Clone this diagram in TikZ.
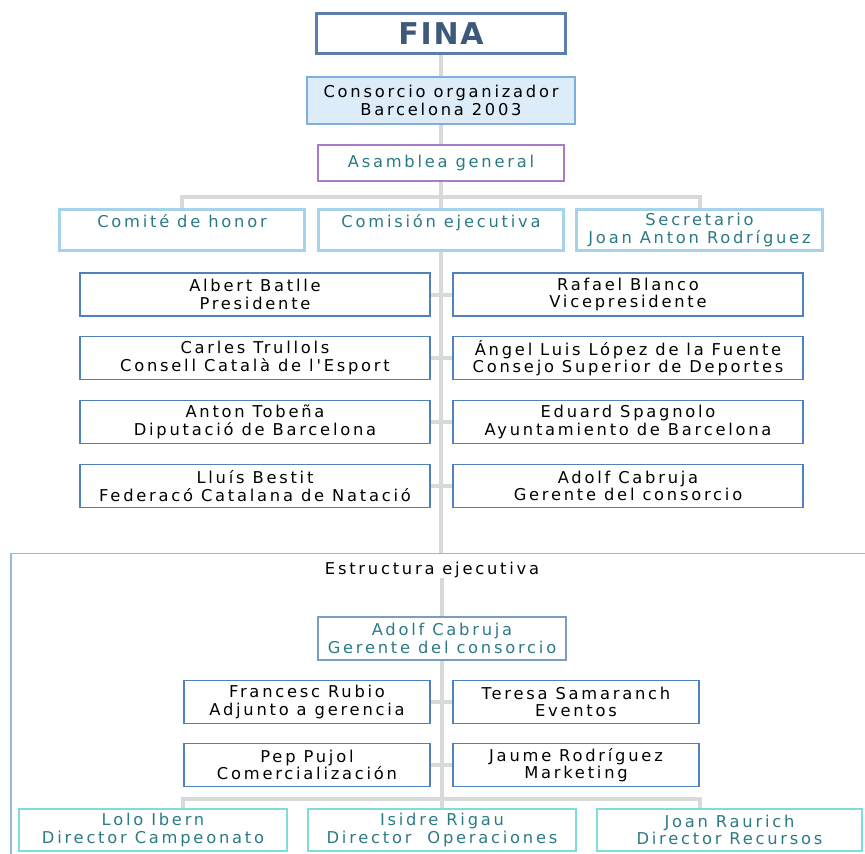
\documentclass[tikz,border=0pt]{standalone}
\usepackage{fontspec}
\newfontfamily\pix{DejaVu Sans}[LetterSpace=17]
\newfontfamily\pixb{DejaVu Sans Bold}[LetterSpace=6]
\usetikzlibrary{backgrounds}
\definecolor{lnk}{HTML}{D9D9D9}
\definecolor{finab}{HTML}{5B7FA8}
\definecolor{finat}{HTML}{3D5A7A}
\definecolor{consf}{HTML}{DCECF8}
\definecolor{consb}{HTML}{7FB0DC}
\definecolor{purp}{HTML}{A87CC8}
\definecolor{teal}{HTML}{2B7B85}
\definecolor{lblue}{HTML}{A6D2EA}
\definecolor{memb}{HTML}{4F81BD}
\definecolor{estb}{HTML}{94B8DE}
\definecolor{adb}{HTML}{7C9CC2}
\definecolor{cyanb}{HTML}{7FDCDC}
\tikzset{
  x=1pt, y=-1pt,
  base/.style={inner sep=0pt, align=center, fill=white,
    font=\pix\fontsize{16.3}{17.5}\selectfont},
  finabox/.style={base, draw=finab, line width=3pt, text=finat,
    font=\pixb\fontsize{30}{32}\selectfont},
  consbox/.style={base, draw=consb, fill=consf, line width=2pt},
  asambox/.style={base, draw=purp, line width=1.5pt, text=teal},
  combox/.style={base, draw=lblue, line width=3pt, text=teal},
  membox/.style={base, draw=memb, line width=1.5pt},
  adbox/.style={base, draw=adb, line width=1.5pt, text=teal},
  dirbox/.style={base, draw=cyanb, line width=2pt, text=teal},
  estrbox/.style={draw=estb, line width=1.5pt, inner sep=0pt},
  link/.style={draw=lnk, line width=4pt},
}
\begin{document}
\begin{tikzpicture}
\useasboundingbox (0,0) rectangle (865,854);
\clip (0,0) rectangle (865,854);
% top part
\node[finabox, minimum width=249pt, minimum height=40pt] (fina) at (441,33.5) {FINA};
\node[consbox, minimum width=268pt, minimum height=47pt] (cons) at (441,100.5) {Consorcio organizador\\Barcelona 2003};
\node[asambox, minimum width=246pt, minimum height=36pt] (asam) at (441,163) {Asamblea general};
\node[combox, minimum width=245pt, minimum height=41pt] (comite) at (182,230) {Comité de honor\\[0pt]~};
\node[combox, minimum width=245pt, minimum height=41pt] (comision) at (441,230) {Comisión ejecutiva\\[0pt]~};
\node[combox, minimum width=246pt, minimum height=41pt] (secret) at (699.5,230) {Secretario\\Joan Anton Rodríguez};
% members
\node[membox, minimum width=350pt, minimum height=43pt] (albert) at (255,294.5) {Albert Batlle\\Presidente};
\node[membox, minimum width=350pt, minimum height=43pt] (rafael) at (628,294.5) {Rafael Blanco\\Vicepresidente};
\node[membox, minimum width=350pt, minimum height=43pt] (carles) at (255,358) {Carles Trullols\\Consell Català de l'Esport};
\node[membox, minimum width=350pt, minimum height=43pt] (angel) at (628,358) {Ángel Luis López de la Fuente\\Consejo Superior de Deportes};
\node[membox, minimum width=350pt, minimum height=43pt] (anton) at (255,422) {Anton Tobeña\\Diputació de Barcelona};
\node[membox, minimum width=350pt, minimum height=43pt] (eduard) at (628,422) {Eduard Spagnolo\\Ayuntamiento de Barcelona};
\node[membox, minimum width=350pt, minimum height=43pt] (lluis) at (255,486) {Lluís Bestit\\Federacó Catalana de Natació};
\node[membox, minimum width=350pt, minimum height=43pt] (adolf) at (628,486) {Adolf Cabruja\\Gerente del consorcio};
% estructura ejecutiva
\node[estrbox, anchor=north west, minimum width=870pt, minimum height=320pt] (estr) at (10,552.5) {};
\node[base, fill=none] (estrt) at (432,570) {Estructura ejecutiva};
\node[adbox, minimum width=248pt, minimum height=43pt] (adolf2) at (442,638.5) {Adolf Cabruja\\Gerente del consorcio};
\node[membox, minimum width=246pt, minimum height=43pt] (francesc) at (307,702) {Francesc Rubio\\Adjunto a gerencia};
\node[membox, minimum width=246pt, minimum height=43pt] (teresa) at (576,702) {Teresa Samaranch\\Eventos};
\node[membox, minimum width=246pt, minimum height=43pt] (pep) at (307,765) {Pep Pujol\\Comercialización};
\node[membox, minimum width=246pt, minimum height=43pt] (jaume) at (576,765) {Jaume Rodríguez\\Marketing};
\node[dirbox, minimum width=268pt, minimum height=42pt] (lolo) at (153,830) {Lolo Ibern\\Director Campeonato};
\node[dirbox, minimum width=268pt, minimum height=42pt] (isidre) at (442,830) {Isidre Rigau\\Director\ \ Operaciones};
\node[dirbox, minimum width=265pt, minimum height=42pt] (joan) at (729.5,830) {Joan Raurich\\Director Recursos};
% connectors
\begin{scope}[on background layer]
\draw[link] (fina.south -| comision.north) -- (estr.north -| comision.north);
\draw[link] (comite.north) -- ++(0,-11) -| (secret.north);
\draw[link] (albert.east) -- (rafael.west);
\draw[link] (carles.east) -- (angel.west);
\draw[link] (anton.east) -- (eduard.west);
\draw[link] (lluis.east) -- (adolf.west);
\draw[link] (estrt.south -| adolf2.north) -- (adolf2.north);
\draw[link] (adolf2.south) -- (isidre.north);
\draw[link] (francesc.east) -- (teresa.west);
\draw[link] (pep.east) -- (jaume.west);
\draw[link] (francesc.west |- lolo.north) -- ++(0,-9) -| (teresa.east |- joan.north);
\end{scope}
\end{tikzpicture}
\end{document}
